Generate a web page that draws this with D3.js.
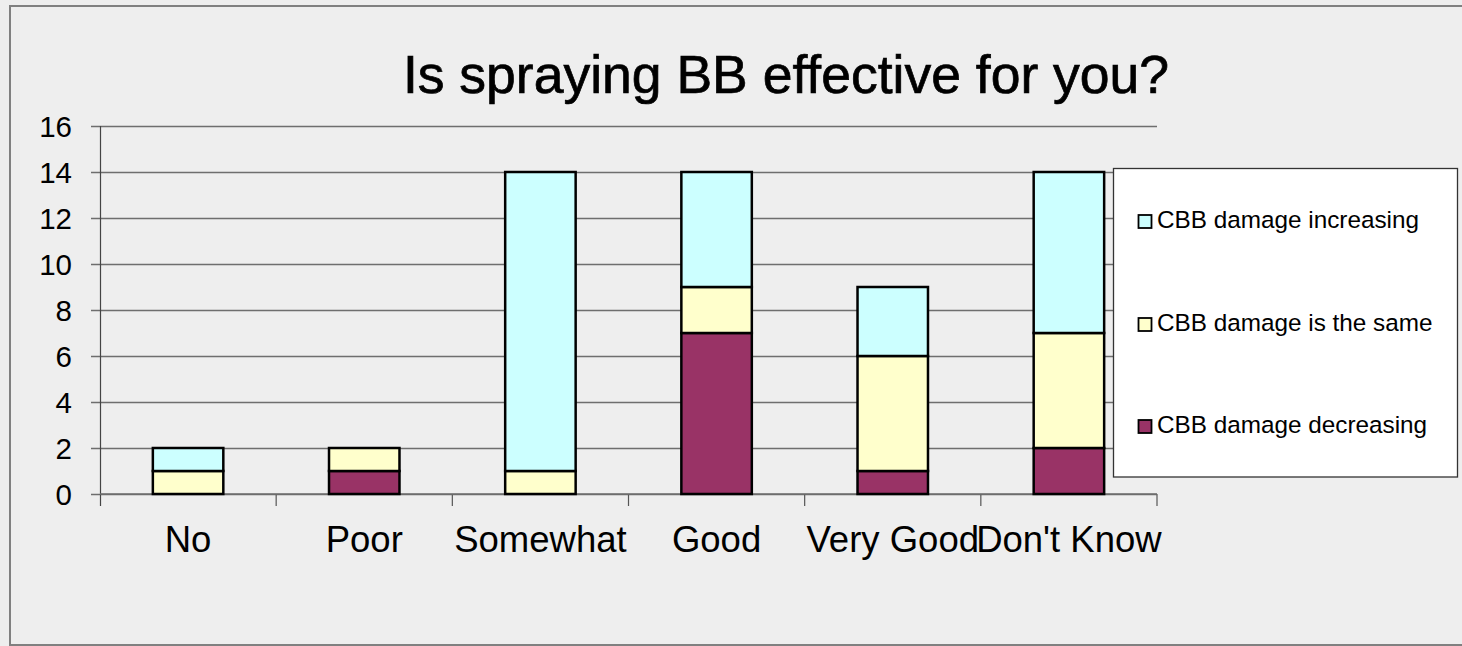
<!DOCTYPE html>
<html>
<head>
<meta charset="utf-8">
<script src="https://cdn.jsdelivr.net/npm/d3@7"></script>
<style>
  html, body { margin: 0; padding: 0; background: #eeeeee; }
  svg { display: block; font-family: "Liberation Sans", Arial, sans-serif; }
</style>
</head>
<body>
<svg id="chart" width="1462" height="646"></svg>
<script>
const categories = ["No", "Poor", "Somewhat", "Good", "Very Good", "Don't Know"];
const seriesNames = ["CBB damage decreasing", "CBB damage is the same", "CBB damage increasing"];
const decreasing = [0, 1, 0, 7, 1, 2];
const same = [1, 1, 1, 2, 5, 5];
const increasing = [1, 0, 13, 5, 3, 7];
const yTicks = [0, 2, 4, 6, 8, 10, 12, 14, 16];
const title = "Is spraying BB effective for you?";
const colors = ["#993366", "#FFFFCC", "#CCFFFF"];

(function () {
const rows = categories.map((c, i) => ({
  cat: c,
  [seriesNames[0]]: decreasing[i],
  [seriesNames[1]]: same[i],
  [seriesNames[2]]: increasing[i]
}));

const svg = d3.select("#chart");
const W = 1462, H = 646;

// background & outer border
svg.append("rect").attr("x", 0).attr("y", 0).attr("width", W).attr("height", H).attr("fill", "#eeeeee");
svg.append("rect").attr("x", 10).attr("y", 6).attr("width", 1470).attr("height", 639)
  .attr("fill", "#eeeeee").attr("stroke", "#808080").attr("stroke-width", 2);

const pLeft = 100, pRight = 1157, pTop = 126, pBottom = 494;

const x = d3.scaleBand().domain(categories).range([pLeft, pRight]).paddingInner(0).paddingOuter(0);
const y = d3.scaleLinear().domain([0, 16]).range([pBottom, pTop]);

// title
svg.append("text").attr("x", 786).attr("y", 93).attr("text-anchor", "middle")
  .attr("font-size", 53.5).attr("fill", "#000")
  .attr("stroke", "#000").attr("stroke-width", 0.7).text(title);

// y axis with gridlines
const yAxis = d3.axisLeft(y).tickValues(yTicks).tickSize(9).tickPadding(19).tickFormat(d3.format("d"));
const gy = svg.append("g").attr("transform", `translate(${pLeft},0)`).call(yAxis);
gy.select(".domain").remove();
gy.selectAll(".tick line").attr("x1", pRight - pLeft).attr("x2", -9)
  .attr("stroke", "#6e6e6e").attr("stroke-width", 1.6);
gy.selectAll(".tick text").attr("font-size", 29.5).attr("fill", "#000")
  .attr("font-family", "Liberation Sans, Arial, sans-serif").attr("dy", "0.34em");
svg.append("line").attr("x1", pLeft + 0.5).attr("x2", pLeft + 0.5).attr("y1", pTop).attr("y2", pBottom + 12)
  .attr("stroke", "#444").attr("stroke-width", 1.2);

// x axis category ticks
const bounds = categories.map(c => x(c)).concat([x.range()[1]]);
svg.append("g").selectAll("line").data(bounds.slice(1)).join("line")
  .attr("x1", d => d).attr("x2", d => d).attr("y1", pBottom).attr("y2", pBottom + 12)
  .attr("stroke", "#555").attr("stroke-width", 1.2);
svg.append("line").attr("x1", pLeft).attr("x2", pRight).attr("y1", pBottom).attr("y2", pBottom)
  .attr("stroke", "#6e6e6e").attr("stroke-width", 1.6);

svg.append("g").selectAll("text").data(categories).join("text")
  .attr("x", d => x(d) + x.bandwidth() / 2).attr("y", 552)
  .attr("text-anchor", "middle").attr("font-size", 36.5).attr("fill", "#000")
  .text(d => d);

// stacked bars
const stack = d3.stack().keys(seriesNames);
const layers = stack(rows);
const barW = x.bandwidth() * 0.4;
const gBars = svg.append("g");
layers.forEach((layer, li) => {
  gBars.append("g").selectAll("rect")
    .data(layer.filter(d => d[1] - d[0] > 0))
    .join("rect")
    .attr("x", d => x(d.data.cat) + (x.bandwidth() - barW) / 2)
    .attr("y", d => y(d[1]))
    .attr("width", barW)
    .attr("height", d => y(d[0]) - y(d[1]))
    .attr("fill", colors[li])
    .attr("stroke", "#000").attr("stroke-width", 2.5);
});

// legend
const lg = svg.append("g");
lg.append("rect").attr("x", 1113.5).attr("y", 168.5).attr("width", 344).attr("height", 308.5)
  .attr("fill", "#ffffff").attr("stroke", "#333").attr("stroke-width", 1.3);
const legendOrder = [2, 1, 0];
const legendBase = [228, 331, 433];
legendOrder.forEach((si, k) => {
  lg.append("rect").attr("x", 1138.5).attr("y", legendBase[k] - 13).attr("width", 13).attr("height", 13)
    .attr("fill", colors[si]).attr("stroke", "#000").attr("stroke-width", 1.8);
  lg.append("text").attr("x", 1157).attr("y", legendBase[k]).attr("font-size", 24.3).attr("fill", "#000")
    .text(seriesNames[si]);
});
})();
</script>
</body>
</html>
